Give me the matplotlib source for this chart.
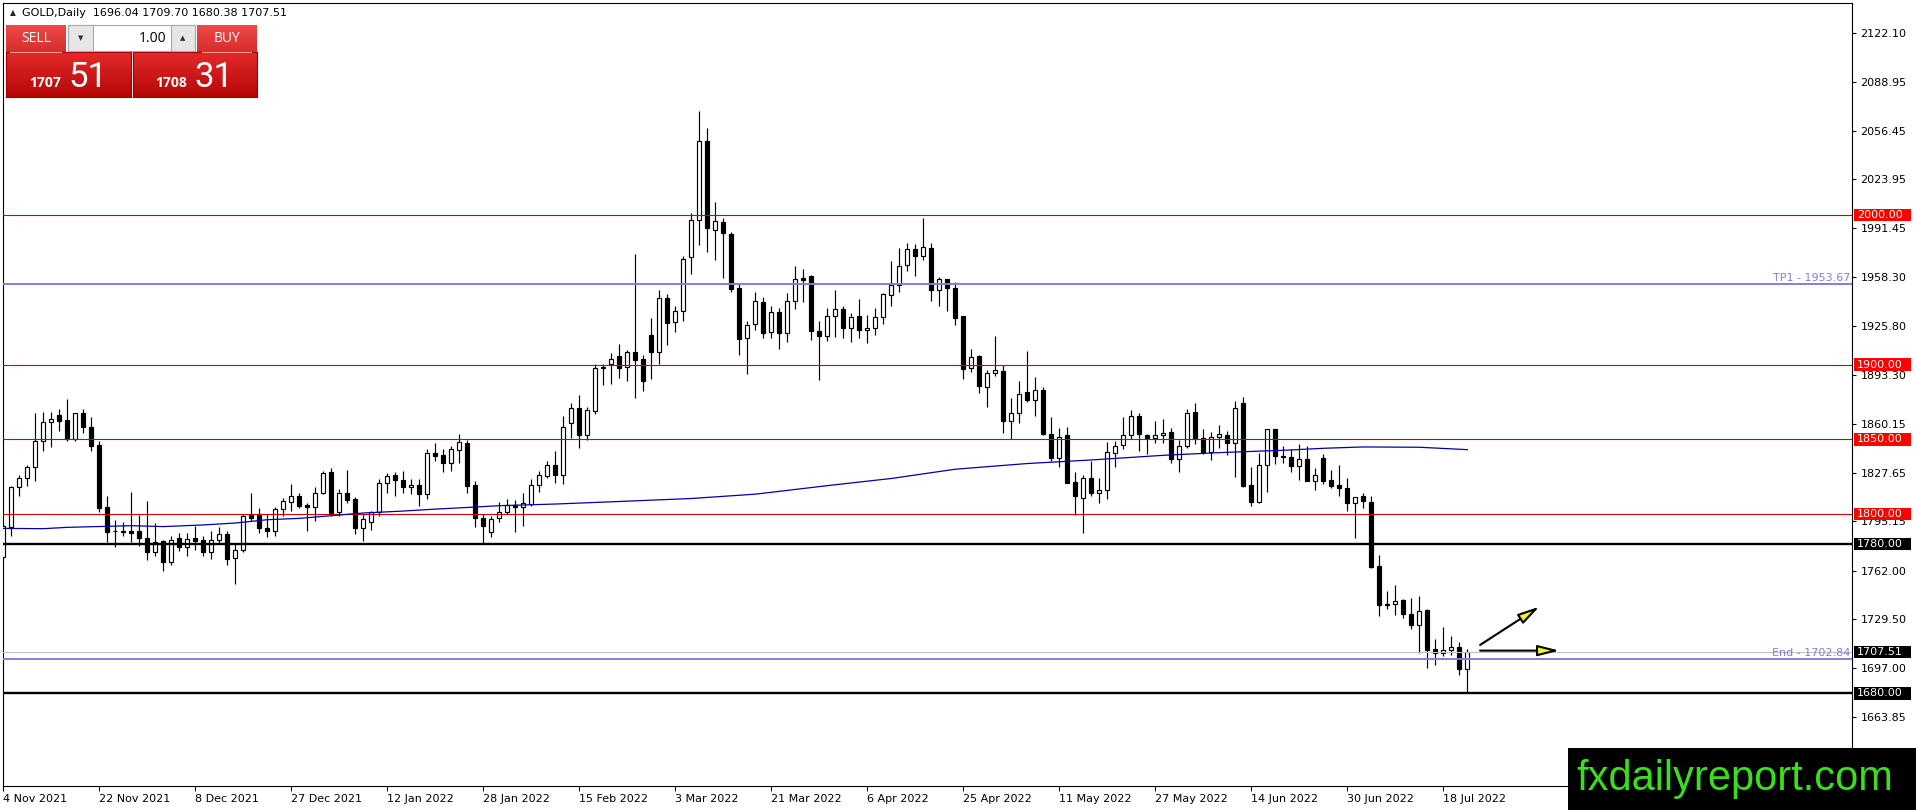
import numpy as np
import matplotlib
matplotlib.use("Agg")
import matplotlib.pyplot as plt
import matplotlib.transforms as mtransforms
from matplotlib.patches import Rectangle
from matplotlib.colors import to_rgb

W, H, DPI = 1916, 810, 100
plt.rcParams['font.family'] = ['DejaVu Sans']

# ---------------- data ----------------
opens = [1771.0, 1791.0, 1818.4, 1823.8, 1831.8, 1848.9, 1861.8, 1866.0, 1862.7, 1850.0,
         1867.3, 1858.4, 1846.0, 1804.7, 1788.4, 1788.4, 1788.9, 1788.7, 1783.8, 1774.9,
         1781.8, 1768.2, 1784.2, 1778.2, 1783.8, 1782.4, 1774.9, 1782.4, 1786.4, 1770.4,
         1776.2, 1799.3, 1800.0, 1790.4, 1788.9, 1803.3, 1807.8, 1811.8, 1806.2, 1804.4,
         1814.4, 1828.2, 1801.1, 1813.8, 1810.0, 1790.7, 1794.4, 1801.1, 1821.1, 1826.0,
         1822.7, 1817.8, 1819.3, 1813.3, 1840.7, 1839.3, 1834.4, 1842.9, 1847.8, 1819.3,
         1797.1, 1787.8, 1797.1, 1801.1, 1806.2, 1804.4, 1806.7, 1819.5, 1825.5, 1832.7,
         1826.2, 1861.1, 1871.1, 1852.9, 1868.9, 1898.0, 1900.4, 1905.5, 1898.4, 1908.4,
         1903.7, 1920.0, 1908.2, 1944.4, 1928.4, 1936.0, 1971.8, 1997.1, 2049.6, 1990.4,
         1995.6, 1987.3, 1951.1, 1917.8, 1927.1, 1942.2, 1921.8, 1935.1, 1921.1, 1942.9,
         1957.8, 1959.3, 1922.7, 1918.9, 1932.2, 1937.1, 1924.4, 1932.2, 1923.3, 1924.4,
         1931.6, 1946.9, 1953.1, 1966.4, 1977.3, 1972.9, 1977.8, 1950.0, 1957.1, 1951.6,
         1932.2, 1897.8, 1905.6, 1885.1, 1894.4, 1895.6, 1862.2, 1867.8, 1881.8, 1876.2,
         1883.3, 1853.8, 1837.8, 1852.7, 1821.6, 1810.7, 1823.8, 1814.4, 1816.2, 1841.1,
         1846.0, 1853.1, 1865.6, 1852.9, 1851.1, 1852.7, 1855.1, 1837.1, 1845.6, 1868.4,
         1851.1, 1841.6, 1851.8, 1852.7, 1847.8, 1874.4, 1819.3, 1807.8, 1832.9, 1856.7,
         1838.4, 1838.4, 1832.2, 1837.1, 1822.2, 1837.8, 1822.7, 1819.3, 1817.3, 1807.1,
         1812.2, 1807.8, 1765.1, 1739.6, 1739.6, 1742.7, 1733.3, 1725.6, 1735.6, 1709.6,
         1707.3, 1708.9, 1711.1, 1696.04]
highs = [1793.0, 1818.5, 1826.0, 1833.0, 1867.8, 1868.0, 1868.4, 1870.0, 1876.7, 1867.8,
         1870.4, 1865.0, 1848.9, 1811.8, 1796.0, 1794.4, 1815.0, 1799.3, 1808.4, 1794.0,
         1782.9, 1785.6, 1787.3, 1787.3, 1792.2, 1785.6, 1788.9, 1791.1, 1788.9, 1780.7,
         1800.0, 1814.0, 1804.0, 1800.0, 1804.4, 1810.7, 1820.0, 1814.0, 1807.3, 1817.8,
         1828.9, 1831.1, 1816.7, 1829.6, 1811.1, 1800.0, 1802.2, 1823.3, 1827.8, 1828.2,
         1828.9, 1823.3, 1823.3, 1843.3, 1847.8, 1843.3, 1845.6, 1853.3, 1849.6, 1822.2,
         1800.0, 1798.9, 1808.2, 1810.4, 1809.6, 1814.4, 1823.3, 1828.9, 1835.6, 1842.2,
         1865.5, 1874.4, 1880.0, 1871.8, 1900.4, 1900.7, 1907.8, 1914.0, 1910.0, 1974.0,
         1906.7, 1931.1, 1950.0, 1947.3, 1938.9, 1972.7, 2001.5, 2070.0, 2058.4, 2008.5,
         1998.4, 1988.9, 1954.0, 1929.5, 1948.9, 1945.1, 1939.3, 1937.8, 1948.2, 1966.2,
         1964.0, 1960.0, 1928.9, 1937.8, 1949.6, 1938.9, 1934.4, 1944.0, 1933.3, 1937.8,
         1947.6, 1969.3, 1977.8, 1981.6, 1980.4, 1997.8, 1981.1, 1958.4, 1957.6, 1955.6,
         1932.6, 1910.7, 1906.7, 1896.7, 1919.3, 1899.6, 1877.8, 1888.9, 1909.3, 1891.8,
         1885.1, 1865.1, 1857.8, 1858.4, 1828.4, 1826.0, 1835.6, 1824.4, 1848.4, 1848.9,
         1865.1, 1869.3, 1867.8, 1853.3, 1862.2, 1863.8, 1857.8, 1849.3, 1870.0, 1874.0,
         1856.7, 1855.1, 1859.3, 1855.6, 1875.6, 1878.4, 1831.8, 1841.1, 1857.1, 1857.1,
         1845.6, 1843.3, 1847.1, 1845.6, 1831.1, 1840.0, 1829.6, 1832.7, 1824.4, 1811.6,
         1813.8, 1811.8, 1772.7, 1748.4, 1752.7, 1743.3, 1743.8, 1745.1, 1736.2, 1716.7,
         1724.4, 1718.4, 1714.4, 1709.70]
lows = [1769.0, 1785.6, 1811.8, 1819.0, 1822.0, 1842.0, 1845.0, 1855.6, 1848.9, 1848.9,
        1854.4, 1842.2, 1801.6, 1781.0, 1778.2, 1785.6, 1781.0, 1778.9, 1769.3, 1771.6,
        1761.6, 1765.6, 1775.6, 1771.8, 1776.0, 1772.2, 1769.6, 1780.7, 1766.0, 1752.9,
        1774.9, 1795.6, 1787.3, 1784.4, 1785.6, 1798.4, 1802.2, 1803.8, 1788.9, 1795.6,
        1813.3, 1798.4, 1798.9, 1807.3, 1786.7, 1782.2, 1789.6, 1798.9, 1814.4, 1811.8,
        1814.4, 1813.3, 1805.1, 1810.0, 1835.6, 1828.2, 1828.9, 1834.4, 1814.0, 1791.1,
        1780.0, 1784.4, 1794.9, 1800.0, 1788.2, 1791.8, 1805.6, 1815.0, 1824.4, 1820.7,
        1820.0, 1850.7, 1844.2, 1849.6, 1866.7, 1886.2, 1886.7, 1891.1, 1888.9, 1877.8,
        1882.2, 1890.4, 1900.7, 1913.3, 1921.6, 1929.0, 1960.4, 1980.0, 1975.1, 1970.0,
        1958.2, 1948.9, 1906.2, 1894.0, 1923.3, 1917.8, 1917.8, 1910.4, 1915.1, 1937.1,
        1942.2, 1916.2, 1889.6, 1915.6, 1918.4, 1917.8, 1914.9, 1917.8, 1914.4, 1920.0,
        1927.1, 1939.3, 1948.9, 1962.7, 1959.3, 1970.0, 1942.9, 1938.9, 1936.2, 1926.2,
        1890.7, 1894.9, 1881.1, 1871.6, 1892.2, 1854.4, 1850.0, 1861.1, 1874.9, 1865.6,
        1852.8, 1835.6, 1831.8, 1820.6, 1799.3, 1787.1, 1812.2, 1807.3, 1810.4, 1831.6,
        1843.3, 1850.0, 1842.2, 1840.0, 1847.8, 1847.8, 1834.4, 1828.4, 1844.4, 1847.1,
        1840.0, 1836.2, 1844.0, 1839.3, 1824.9, 1818.4, 1805.1, 1807.3, 1814.9, 1833.3,
        1834.4, 1828.2, 1822.7, 1821.8, 1816.2, 1820.0, 1817.1, 1811.8, 1802.2, 1784.0,
        1803.8, 1763.8, 1731.6, 1736.2, 1732.7, 1730.4, 1722.9, 1707.1, 1697.1, 1698.9,
        1705.1, 1705.6, 1692.2, 1680.38]
closes = [1792.0, 1817.8, 1823.8, 1831.8, 1848.9, 1861.8, 1863.8, 1862.0, 1850.0, 1867.3,
          1858.2, 1845.6, 1803.8, 1788.2, 1788.6, 1788.2, 1787.6, 1784.2, 1774.4, 1781.1,
          1768.2, 1782.9, 1778.2, 1783.3, 1782.2, 1774.9, 1782.4, 1786.4, 1770.0, 1776.2,
          1798.9, 1797.6, 1790.4, 1788.9, 1803.3, 1808.4, 1811.8, 1805.6, 1804.4, 1814.4,
          1827.8, 1800.4, 1814.4, 1809.6, 1790.7, 1796.7, 1801.1, 1821.1, 1825.6, 1822.7,
          1817.8, 1819.3, 1813.3, 1840.7, 1838.9, 1834.4, 1843.3, 1848.2, 1818.9, 1797.1,
          1791.8, 1796.7, 1801.1, 1806.2, 1804.4, 1807.1, 1819.5, 1826.0, 1832.9, 1826.0,
          1858.4, 1871.1, 1852.9, 1869.3, 1897.8, 1898.4, 1903.7, 1897.8, 1908.2, 1902.9,
          1888.9, 1908.2, 1944.4, 1927.8, 1936.0, 1970.4, 1997.1, 2049.6, 1991.1, 1996.2,
          1987.8, 1950.4, 1917.1, 1926.2, 1942.7, 1921.1, 1935.1, 1921.1, 1942.9, 1957.1,
          1956.7, 1922.2, 1918.9, 1932.2, 1937.1, 1924.4, 1931.8, 1923.3, 1924.7, 1931.6,
          1947.1, 1953.1, 1966.0, 1977.1, 1972.9, 1978.4, 1949.6, 1957.3, 1951.1, 1931.1,
          1897.3, 1905.1, 1885.6, 1894.4, 1896.2, 1862.2, 1867.8, 1880.4, 1876.2, 1882.9,
          1853.3, 1837.8, 1851.8, 1821.1, 1811.8, 1823.8, 1814.4, 1816.2, 1841.6, 1845.6,
          1853.1, 1865.6, 1853.3, 1851.1, 1852.9, 1854.4, 1837.1, 1845.6, 1867.8, 1850.4,
          1841.6, 1851.6, 1853.3, 1847.8, 1871.1, 1818.9, 1807.8, 1832.9, 1856.7, 1838.9,
          1838.2, 1832.2, 1837.1, 1822.2, 1826.2, 1822.2, 1818.9, 1817.1, 1807.1, 1811.1,
          1808.4, 1764.4, 1738.9, 1739.3, 1741.8, 1733.3, 1725.6, 1735.1, 1708.9, 1707.3,
          1708.9, 1711.1, 1696.2, 1707.51]

ma_bars = [0, 5, 8, 16, 20, 25, 29, 33, 37, 41, 45, 50, 54, 58, 62, 69, 77, 86, 94, 103,
           111, 119, 128, 136, 145, 152, 161, 165, 170, 177, 183]
ma_values = [1790.4, 1790.2, 1791.1, 1792.2, 1791.6, 1792.7, 1794.0, 1796.2, 1797.1, 1798.9,
             1800.7, 1802.0, 1803.3, 1804.4, 1805.6, 1806.7, 1808.4, 1810.4, 1813.3, 1819.0,
             1823.8, 1830.0, 1833.8, 1836.2, 1839.3, 1841.1, 1842.9, 1844.0, 1844.9, 1844.7,
             1843.1]

date_labels = ["4 Nov 2021", "22 Nov 2021", "8 Dec 2021", "27 Dec 2021", "12 Jan 2022",
               "28 Jan 2022", "15 Feb 2022", "3 Mar 2022", "21 Mar 2022", "6 Apr 2022",
               "25 Apr 2022", "11 May 2022", "27 May 2022", "14 Jun 2022", "30 Jun 2022",
               "18 Jul 2022"]
bars_per_label = 12

price_ticks = [2122.10, 2088.95, 2056.45, 2023.95, 1991.45, 1958.30, 1925.80, 1893.30,
               1860.15, 1827.65, 1795.15, 1762.00, 1729.50, 1697.00, 1663.85]
red_levels = [2000.00, 1900.00, 1850.00, 1800.00]
black_levels = [1780.00, 1680.00]
tp_level = 1953.67
end_level = 1702.84
bid_level = 1707.51
ohlc_header = "GOLD,Daily  1696.04 1709.70 1680.38 1707.51"

arrow_up = [(184.6, 1712.4), (192.0, 1738.0)]
arrow_flat = [(184.6, 1708.6), (194.5, 1708.6)]

# ---------------- figure ----------------
fig = plt.figure(figsize=(W / DPI, H / DPI), dpi=DPI, facecolor='white')
AX_L, AX_T, AX_R, AX_B = 3, 3, 1852, 786
ax = fig.add_axes([AX_L / W, 1 - AX_B / H, (AX_R - AX_L) / W, (AX_B - AX_T) / H])
ax.set_facecolor('white')

n = len(opens)
x = np.arange(n)
o = np.array(opens); h = np.array(highs); l = np.array(lows); c = np.array(closes)
up = c >= o

bar_px = 8.0
ax.set_xlim(-0.3 / bar_px, -0.3 / bar_px + (AX_R - AX_L) / bar_px)
ax.set_ylim(1618, 2142)

# candles
ax.vlines(x, l, h, color='black', lw=0.85, zorder=2)
ax.bar(x, np.maximum(np.abs(c - o), 0.35), bottom=np.minimum(o, c), width=0.5,
       color=np.where(up, 'white', 'black'), edgecolor='black', linewidth=0.85, zorder=3)

# horizontal levels
for lv in red_levels:
    ax.axhline(lv, color='#d40000', lw=0.8, zorder=4)
ax.axhline(bid_level, color='#c0c0c0', lw=0.8, zorder=4)
ax.axhline(tp_level, color='#7f7fdf', lw=1.4, zorder=4)
ax.axhline(end_level, color='#7f7fdf', lw=1.4, zorder=4)
for lv in black_levels:
    ax.axhline(lv, color='black', lw=1.7, zorder=4)

# moving average
ax.plot(ma_bars, ma_values, color='#0000a8', lw=0.9, zorder=5)

# arrows
for (s, e) in (arrow_up, arrow_flat):
    ax.annotate('', xy=e, xytext=s, annotation_clip=False,
                arrowprops=dict(arrowstyle='-|>,head_length=13,head_width=3.3',
                                mutation_scale=1, facecolor='#f2f21a', edgecolor='black',
                                lw=1.5, shrinkA=0, shrinkB=0), zorder=6)

# line texts
tr_ax = mtransforms.blended_transform_factory(ax.transAxes, ax.transData)
ax.text(1 - 2 / (AX_R - AX_L), tp_level + 1.0, "TP1 - 1953.67", transform=tr_ax,
        ha='right', va='bottom', color='#7f7fdf', fontsize=8, zorder=6)
ax.text(1 - 2 / (AX_R - AX_L), end_level + 1.0, "End - 1702.84", transform=tr_ax,
        ha='right', va='bottom', color='#7f7fdf', fontsize=8, zorder=6)

# header
ax.text(7 / (AX_R - AX_L), 1 - 10 / (AX_B - AX_T), "\u25B2", transform=ax.transAxes,
        fontsize=5.5, va='center', ha='left', color='#202020', zorder=6)
ax.text(19 / (AX_R - AX_L), 1 - 10 / (AX_B - AX_T), ohlc_header, transform=ax.transAxes,
        fontsize=8, va='center', ha='left', color='black', zorder=6)

# axes styling
for sp in ax.spines.values():
    sp.set_color('black'); sp.set_linewidth(0.8)
ax.yaxis.tick_right()
ax.set_yticks(price_ticks)
ax.set_yticklabels([f"{v:.2f}" for v in price_ticks])
ax.tick_params(axis='y', which='both', right=True, left=False, labelright=True,
               labelleft=False, length=3, width=0.8, pad=3, labelsize=8, colors='black')
ax.set_xticks(list(range(0, bars_per_label * len(date_labels), bars_per_label)))
ax.set_xticklabels(date_labels, ha='left')
ax.tick_params(axis='x', length=3.5, width=0.8, pad=2.5, labelsize=8, colors='black')

# price label boxes on the right axis
tr_fig = mtransforms.blended_transform_factory(fig.transFigure, ax.transData)
box_h = 12.5 / (783 / 524)
for lv, col in [(v, '#ff0000') for v in red_levels] + [(v, 'black') for v in black_levels] + [(bid_level, 'black')]:
    ax.add_patch(Rectangle((1854 / W, lv - box_h / 2), 57 / W, box_h, transform=tr_fig,
                           facecolor=col, edgecolor='none', clip_on=False, zorder=10))
    ax.text(1857 / W, lv, f"{lv:.2f}", transform=tr_fig, color='white', fontsize=8,
            va='center', ha='left', clip_on=False, zorder=11)

# ---------------- trading panel ----------------
def grad_box(x0, y0, x1, y1, ctop, cbot, edge=None, z=30):
    a = fig.add_axes([x0 / W, 1 - y1 / H, (x1 - x0) / W, (y1 - y0) / H])
    a.set_zorder(z)
    t = np.linspace(0, 1, 64)[:, None, None]
    img = np.array(to_rgb(ctop))[None, None, :] * (1 - t) + np.array(to_rgb(cbot))[None, None, :] * t
    a.imshow(img, aspect='auto', extent=(0, 1, 0, 1), interpolation='bilinear')
    a.set_xticks([]); a.set_yticks([])
    for sp in a.spines.values():
        if edge is None:
            sp.set_visible(False)
        else:
            sp.set_color(edge); sp.set_linewidth(0.8)
    return a

def rect(x0, y0, x1, y1, fc, ec='none', lw=0.8, z=35):
    fig.add_artist(Rectangle((x0 / W, 1 - y1 / H), (x1 - x0) / W, (y1 - y0) / H,
                             transform=fig.transFigure, facecolor=fc, edgecolor=ec,
                             lw=lw, zorder=z))

def ftext(xp, yp, s, **kw):
    fig.text(xp / W, 1 - yp / H, s, zorder=40, **kw)

grad_box(6, 25, 66, 52, '#ec4a4a', '#d92c2c')
grad_box(197, 25, 257, 52, '#ec4a4a', '#d92c2c')
grad_box(6, 52, 131, 97, '#e42a2a', '#b50707', edge='#a00000')
grad_box(133, 52, 257, 97, '#e42a2a', '#b50707', edge='#a00000')
rect(10, 51.5, 62, 52.5, '#f4a0a0', z=36)
rect(202, 51.5, 252, 52.5, '#f4a0a0', z=36)
rect(68, 25, 195, 51, '#ffffff', ec='#a8a8a8')
rect(68, 25, 93, 51, '#e6e6e6', ec='#a8a8a8')
rect(171, 25, 195, 51, '#e6e6e6', ec='#a8a8a8')

ftext(36, 39, "SELL", color='white', fontsize=10, family='Open Sans', ha='center', va='center')
ftext(227, 39, "BUY", color='white', fontsize=10, family='Open Sans', ha='center', va='center')
ftext(166, 38, "1.00", color='black', fontsize=10, family='Open Sans', ha='right', va='center')
ftext(80.5, 38, "\u25BC", color='#303030', fontsize=5, ha='center', va='center')
ftext(183, 38, "\u25B2", color='#303030', fontsize=5, ha='center', va='center')
ftext(29, 87, "1707", color='white', fontsize=10, fontweight='bold', family='Open Sans', ha='left', va='baseline')
ftext(68, 87, "51", color='white', fontsize=25, family='Roboto', ha='left', va='baseline')
ftext(155, 87, "1708", color='white', fontsize=10, fontweight='bold', family='Open Sans', ha='left', va='baseline')
ftext(194, 87, "31", color='white', fontsize=25, family='Roboto', ha='left', va='baseline')

# ---------------- watermark ----------------
rect(1568, 748, 1916, 810, 'black', z=45)
fig.text(1576 / W, 1 - 779 / H, "fxdailyreport.com", color='#3cdc1e', fontsize=30,
         family='Liberation Sans', ha='left', va='center', zorder=46)

fig.savefig('out.png', dpi=DPI, facecolor='white')
